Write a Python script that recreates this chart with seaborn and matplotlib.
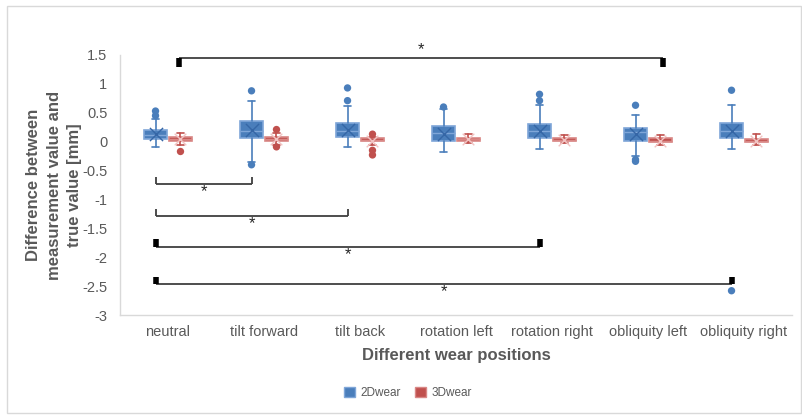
import matplotlib
matplotlib.use("Agg")
import matplotlib.pyplot as plt
from matplotlib.patches import Patch, Rectangle
import numpy as np
import pandas as pd
import seaborn as sns

# ---------------- data ----------------
categories = ["neutral", "tilt forward", "tilt back", "rotation left",
              "rotation right", "obliquity left", "obliquity right"]
series = ["2Dwear", "3Dwear"]

d2_whislo = [-0.10, -0.35, -0.10, -0.18, -0.12, -0.25, -0.12]
d2_q1     = [0.05, 0.06, 0.08, 0.02, 0.06, 0.005, 0.06]
d2_med    = [0.12, 0.19, 0.19, 0.15, 0.18, 0.165, 0.19]
d2_q3     = [0.21, 0.36, 0.32, 0.27, 0.30, 0.24, 0.32]
d2_whishi = [0.40, 0.71, 0.61, 0.57, 0.64, 0.47, 0.63]
d2_mean   = [0.13, 0.20, 0.20, 0.14, 0.19, 0.13, 0.18]
d2_fliers = [[0.45, 0.53], [0.88, -0.40], [0.71, 0.93], [0.60],
             [0.71, 0.82], [0.63, -0.31, -0.34], [0.89, -2.58]]

d3_whislo = [-0.05, -0.05, -0.05, -0.02, -0.02, -0.06, -0.06]
d3_q1     = [0.02, 0.02, 0.005, 0.02, 0.01, -0.01, -0.005]
d3_med    = [0.04, 0.04, 0.03, 0.04, 0.03, 0.02, 0.02]
d3_q3     = [0.08, 0.08, 0.055, 0.07, 0.06, 0.07, 0.05]
d3_whishi = [0.15, 0.15, 0.08, 0.14, 0.11, 0.11, 0.13]
d3_mean   = [0.04, 0.04, 0.02, 0.04, 0.03, 0.02, 0.02]
d3_fliers = [[-0.17], [0.21, -0.09], [0.13, -0.15, -0.23], [], [], [], []]

# significance brackets: (start, end) positions, bar level, hook length, thick hooks
br_x1    = [0.11, -0.13, -0.13, -0.13, -0.13]
br_x2    = [5.16, 0.87, 1.87, 3.87, 5.87]
br_y     = [1.45, -0.73, -1.28, -1.83, -2.47]
br_hook  = [-0.16, 0.11, 0.12, 0.14, 0.13]
br_thick = [True, False, False, True, True]
star_y   = [1.60, -0.86, -1.42, -1.96, -2.60]

yticks = [1.5, 1, 0.5, 0, -0.5, -1, -1.5, -2, -2.5, -3]
ytick_labels = ["1.5", "1", "0.5", "0", "-0.5", "-1", "-1.5", "-2", "-2.5", "-3"]

# ---------------- style ----------------
sns.set_theme(style="white")
plt.rcParams["font.family"] = ["Liberation Sans", "DejaVu Sans"]

BLUE = "#4A7EBB"
BLUE_EDGE = "#7FA6D8"
RED = "#C0504D"
RED_EDGE = "#D98886"
GRAY_TXT = "#595959"
OFF = 0.13
W = 0.24

fig = plt.figure(figsize=(8.03, 4.15), dpi=100)
ax = fig.add_axes([120 / 803, 1 - 315 / 415, 672 / 803, 260 / 415])

def stats_for(whislo, q1, med, q3, whishi, mean):
    return [dict(whislo=a, q1=b, med=c, q3=d, whishi=e, mean=f, fliers=[])
            for a, b, c, d, e, f in zip(whislo, q1, med, q3, whishi, mean)]

pos = np.arange(len(categories))
for st, p, fc, ec in [
    (stats_for(d2_whislo, d2_q1, d2_med, d2_q3, d2_whishi, d2_mean), pos - OFF, BLUE, BLUE_EDGE),
    (stats_for(d3_whislo, d3_q1, d3_med, d3_q3, d3_whishi, d3_mean), pos + OFF, RED, RED_EDGE),
]:
    ax.bxp(st, positions=p, widths=W, patch_artist=True, showfliers=False,
           boxprops=dict(facecolor=fc, edgecolor=ec, linewidth=1.2),
           medianprops=dict(color=ec, linewidth=1.0),
           whiskerprops=dict(color=fc, linewidth=1.2),
           capprops=dict(color=fc, linewidth=1.2),
           capwidths=0.08, zorder=3)

# means and outliers drawn with seaborn
mean_df = pd.DataFrame({
    "x": np.concatenate([pos - OFF, pos + OFF]),
    "y": d2_mean + d3_mean,
    "series": [series[0]] * len(pos) + [series[1]] * len(pos),
})
sns.scatterplot(data=mean_df[mean_df.series == "2Dwear"], x="x", y="y", marker="x",
                s=90, color="#3566A6", linewidth=1.0, ax=ax, zorder=4, legend=False)
sns.scatterplot(data=mean_df[mean_df.series == "3Dwear"], x="x", y="y", marker="x",
                s=70, color="#F2C4C3", linewidth=1.0, ax=ax, zorder=4, legend=False)

fx, fy, fs = [], [], []
for i, fl in enumerate(d2_fliers):
    for v in fl:
        fx.append(i - OFF); fy.append(v); fs.append(series[0])
for i, fl in enumerate(d3_fliers):
    for v in fl:
        fx.append(i + OFF); fy.append(v); fs.append(series[1])
flier_df = pd.DataFrame({"x": fx, "y": fy, "series": fs})
sns.scatterplot(data=flier_df, x="x", y="y", hue="series",
                palette={"2Dwear": BLUE, "3Dwear": RED}, s=28, linewidth=0,
                ax=ax, zorder=5, legend=False)

# significance brackets
for x1, x2, y, h, thick, sy in zip(br_x1, br_x2, br_y, br_hook, br_thick, star_y):
    ax.plot([x1, x2], [y, y], color="#3F3F3F", lw=1.3, zorder=2, solid_capstyle="butt")
    hw = 4.0 if thick else 1.3
    hc = "black" if thick else "#3F3F3F"
    for xx in (x1, x2):
        ax.plot([xx, xx], [y, y + h], color=hc, lw=hw, zorder=2, solid_capstyle="butt")
    ax.text((x1 + x2) / 2, sy, "*", ha="center", va="center", fontsize=12,
            color="#262626")

# axes formatting
ax.set_xlim(-0.5, len(categories) - 0.5)
ax.set_ylim(-3, 1.5)
ax.set_xticks(pos)
ax.set_xticklabels(categories, fontsize=10.5, color=GRAY_TXT)
ax.set_yticks(yticks)
ax.set_yticklabels(ytick_labels, fontsize=10.5, color=GRAY_TXT)
ax.tick_params(axis="both", length=0)
ax.tick_params(axis="x", pad=7)
ax.tick_params(axis="y", pad=9)
for s in ["top", "right"]:
    ax.spines[s].set_visible(False)
for s in ["left", "bottom"]:
    ax.spines[s].set_color("#D9D9D9")
    ax.spines[s].set_linewidth(1.0)
ax.grid(False)
ax.set_xlabel("Different wear positions", fontsize=12, fontweight="bold",
              color=GRAY_TXT, labelpad=7)
ax.set_ylabel("Difference between\nmeasurement value and\ntrue value [mm]",
              fontsize=12, fontweight="bold", color=GRAY_TXT, labelpad=0,
              linespacing=1.45)

# legend
handles = [Patch(facecolor=BLUE, edgecolor=BLUE_EDGE, label=series[0]),
           Patch(facecolor=RED, edgecolor=RED_EDGE, label=series[1])]
leg = fig.legend(handles=handles, loc="center", bbox_to_anchor=(408 / 803, 1 - 393 / 415),
                 ncol=2, frameon=False, fontsize=8.5, handlelength=0.9,
                 handleheight=0.9, handletextpad=0.5, columnspacing=1.2)
for t in leg.get_texts():
    t.set_color(GRAY_TXT)

# outer chart frame
fig.patches.append(Rectangle((7 / 803, 0.004), 1 - 7 / 803 - 0.002, 1 - 6 / 415 - 0.004,
                             transform=fig.transFigure, fill=False,
                             edgecolor="#D9D9D9", linewidth=1.0))

fig.savefig("out.png", dpi=100)
